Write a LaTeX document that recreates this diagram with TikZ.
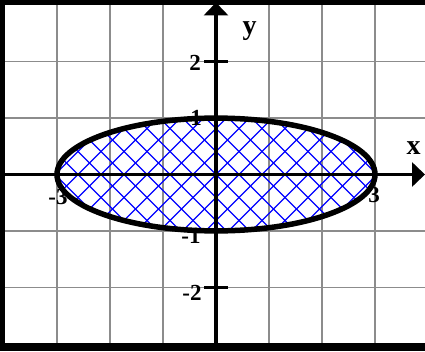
\documentclass[tikz,border=0pt]{standalone}
\usepackage{fontspec}
\setmainfont{Liberation Serif}
\usetikzlibrary{arrows.meta}
\definecolor{gridgray}{RGB}{140,140,140}
\definecolor{hatchblue}{RGB}{0,0,255}
\tikzset{
  gridline/.style={draw=gridgray, line width=1.6pt},
  hatchline/.style={draw=hatchblue, line width=1.3pt},
  axisline/.style={draw=black, line width=3.5pt, -{Triangle[length=13pt,width=24pt]}},
  tickline/.style={draw=black, line width=2.5pt},
  lbl/.style={font=\fontsize{23}{25}\selectfont\bfseries, inner sep=0pt},
  axlbl/.style={font=\fontsize{28}{30}\selectfont\bfseries, inner sep=0pt},
  curve/.style={draw=black, line width=5.5pt}
}
\begin{document}
\begin{tikzpicture}[x=1pt,y=1pt]
\useasboundingbox (-216,-176.5) rectangle (209,174.5);
% grid
\foreach \k in {-3,...,3} {
  \draw[gridline] ({53*\k},-168.5) -- ({53*\k},169.5);
}
\foreach \k in {-2,...,2} {
  \draw[gridline] (-211,{56.4*\k}) -- (209,{56.4*\k});
}
% hatch
\begin{scope}
  \clip (0,0) ellipse [x radius=159pt, y radius=56.4pt];
  \foreach \c in {-230,-207,...,230} {
    \draw[hatchline] ({\c-70},-70) -- ({\c+70},70);
    \draw[hatchline] ({\c-70},70) -- ({\c+70},-70);
  }
\end{scope}
% labels
\node[axlbl] (ly) at (33.5,143.5) {y};
\node[axlbl] (lx) at (197.5,26) {x};
\node[lbl] (l2) at (-21,111.5) {2};
\node[lbl] (l1) at (-20,56.5) {1};
\node[lbl] (lm1) at (-25,-61.5) {-1};
\node[lbl] (lm2) at (-24,-118.5) {-2};
\node[lbl] (lm3) at (-158,-22.5) {-3};
\node[lbl] (l3) at (158,-20.5) {3};
% ellipse
\draw[curve] (0,0) ellipse [x radius=159pt, y radius=56.4pt];
% ticks
\foreach \k in {-2,-1,1,2} {
  \draw[tickline] (-12,{56.4*\k}) -- (12,{56.4*\k});
}
% axes
\coordinate (xs) at (-211,0);
\coordinate (xe) at (209,0);
\coordinate (ys) at (0,-168.5);
\coordinate (ye) at (0,172);
\draw[axisline] (xs) -- (xe);
\draw[axisline] (ys) -- (ye);
% frame
\fill[black] (-216,-176.5) rectangle (-211,174.5);
\fill[black] (-216,169.5) rectangle (209,174.5);
\fill[black] (-216,-176.5) rectangle (209,-168.5);
\end{tikzpicture}
\end{document}
